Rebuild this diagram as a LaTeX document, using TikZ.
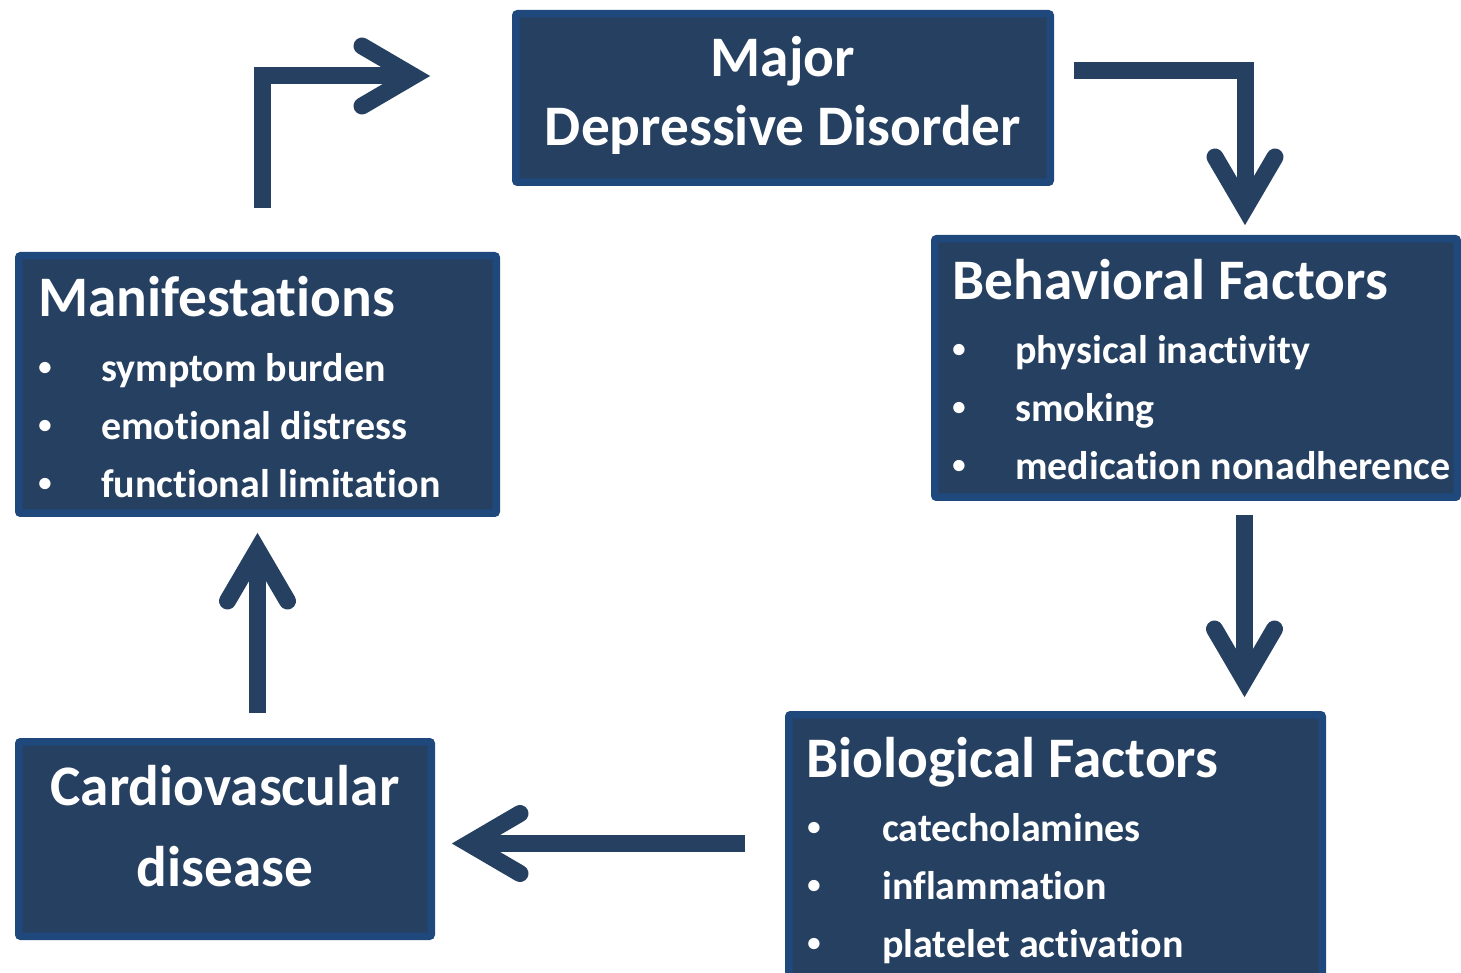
\documentclass[tikz,border=0pt]{standalone}
\usepackage{fontspec}
\setmainfont[Ligatures={NoCommon}]{Carlito}
\usetikzlibrary{calc}
\definecolor{boxfill}{HTML}{264061}
\definecolor{boxline}{HTML}{1F497D}
\definecolor{arrowcol}{HTML}{264061}
\newcommand{\smbullet}{\raisebox{4.5pt}{\fontsize{20}{20}\selectfont\textbullet}}
\tikzset{
  box/.style={draw=boxline, fill=boxfill, line width=5.625pt, rounded corners=1.5pt, inner sep=0pt},
  ttl/.style={text=white, inner sep=0pt, font=\fontsize{43}{43}\selectfont\bfseries},
  itm/.style={text=white, inner sep=0pt, anchor=base west, font=\fontsize{30}{30}\selectfont\bfseries},
  shaft/.style={draw=arrowcol, line width=12.75pt, line join=miter},
  chev/.style={draw=arrowcol, line width=12.75pt, line cap=round, line join=miter, miter limit=10},
}
\begin{document}
\begin{tikzpicture}[x=0.75pt, y=-0.75pt]
\useasboundingbox (0,0) rectangle (1461,973);

% boxes
\node[box, minimum width=534.5*0.75pt, minimum height=168.5*0.75pt] (mdd) at (783,98) {};
\node[box, minimum width=522.5*0.75pt, minimum height=258.5*0.75pt] (beh) at (1196,368) {};
\node[box, minimum width=533.5*0.75pt, minimum height=266.5*0.75pt] (bio) at (1055.5,848) {};
\node[box, minimum width=477.5*0.75pt, minimum height=257.5*0.75pt] (man) at (257.5,384.5) {};
\node[box, minimum width=412.5*0.75pt, minimum height=194.5*0.75pt] (cvd) at (225,839) {};

% MDD text
\node[ttl, anchor=base] (mddA) at (783,77) {Major};
\node[ttl, anchor=base] (mddB) at (783,146) {Depressive Disorder};

% CVD text
\node[ttl, anchor=base] (cvdA) at (225,805) {Cardiovascular};
\node[ttl, anchor=base] (cvdB) at (225,886) {disease};

% Manifestations
\node[ttl, anchor=base west] (manT) at (38,317) {Manifestations};
\node[itm] (manb1) at (38,382) {\smbullet};
\node[itm] (manb2) at (38,440) {\smbullet};
\node[itm] (manb3) at (38,498) {\smbullet};
\node[itm] (mani1) at (101,382) {symptom burden};
\node[itm] (mani2) at (101,440) {emotional distress};
\node[itm] (mani3) at (101,498) {functional limitation};

% Behavioral
\node[ttl, anchor=base west] (behT) at (952,300) {Behavioral Factors};
\node[itm] (behb1) at (952,364) {\smbullet};
\node[itm] (behb2) at (952,422) {\smbullet};
\node[itm] (behb3) at (952,480) {\smbullet};
\node[itm] (behi1) at (1015,364) {physical inactivity};
\node[itm] (behi2) at (1015,422) {smoking};
\node[itm] (behi3) at (1015,480) {medication nonadherence};

% Biological
\node[ttl, anchor=base west] (bioT) at (806,777) {Biological Factors};
\node[itm] (biob1) at (807,841) {\smbullet};
\node[itm] (biob2) at (807,899) {\smbullet};
\node[itm] (biob3) at (807,957) {\smbullet};
\node[itm] (bioi1) at (882,841) {catecholamines};
\node[itm] (bioi2) at (882,899) {inflammation};
\node[itm] (bioi3) at (882,957) {platelet activation};

% arrow coordinates
\coordinate (s1) at (262,208);   \coordinate (v1) at (413.3,76);
\coordinate (s2) at (1074,70.5); \coordinate (v2) at (1245,208.3);
\coordinate (s3) at (1244.5,515);\coordinate (v3) at (1244.5,680.3);
\coordinate (s4) at (745,843.5); \coordinate (v4) at (468.7,843.5);
\coordinate (s5) at (257.5,713); \coordinate (v5) at (257.5,549.7);

% connectors
\draw[shaft] (s1) |- (v1);
\draw[chev] ($(v1)+(-51.3,-30)$) -- (v1) -- ($(v1)+(-51.3,30)$);

\draw[shaft] (s2) -| (v2);
\draw[chev] ($(v2)+(-30,-51.3)$) -- (v2) -- ($(v2)+(30,-51.3)$);

\draw[shaft] (s3) -- (v3);
\draw[chev] ($(v3)+(-30,-51.3)$) -- (v3) -- ($(v3)+(30,-51.3)$);

\draw[shaft] (s4) -- (v4);
\draw[chev] ($(v4)+(51.3,-30)$) -- (v4) -- ($(v4)+(51.3,30)$);

\draw[shaft] (s5) -- (v5);
\draw[chev] ($(v5)+(-30,51.3)$) -- (v5) -- ($(v5)+(30,51.3)$);
\end{tikzpicture}
\end{document}
